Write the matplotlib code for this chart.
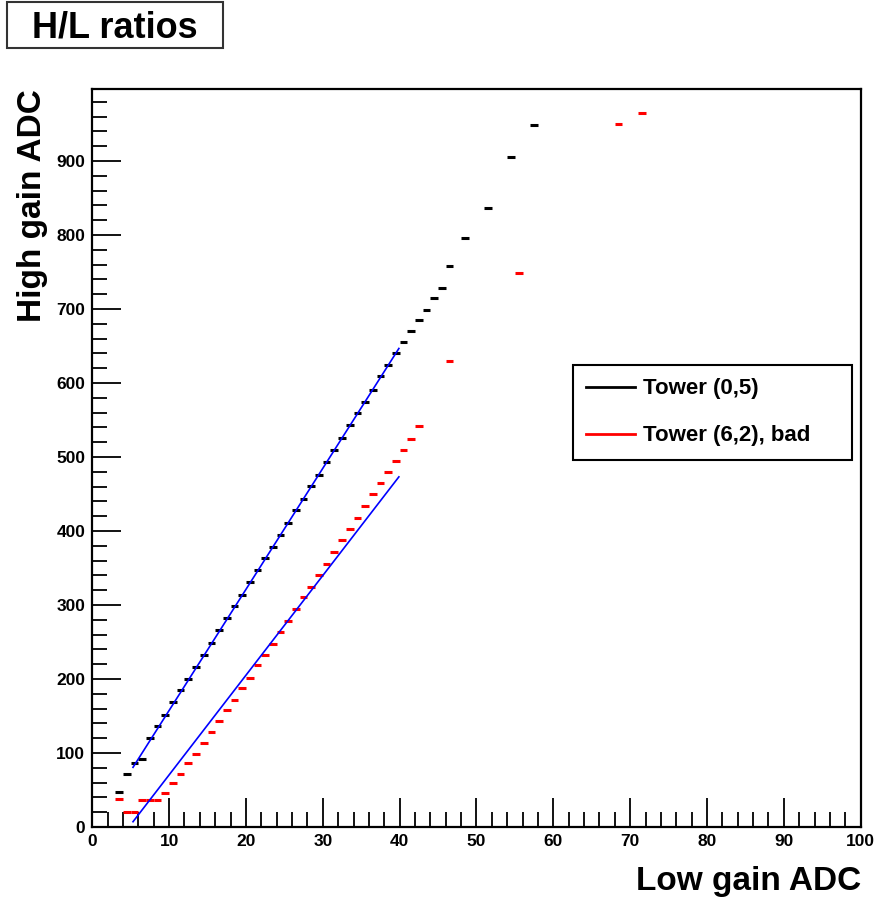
import matplotlib
matplotlib.use("Agg")
import matplotlib.pyplot as plt
from matplotlib.patches import Rectangle
from matplotlib.ticker import MultipleLocator
import numpy as np

plt.rcParams['font.family'] = ['Liberation Sans', 'DejaVu Sans']
plt.rcParams['font.weight'] = 'bold'

# Tower (0,5): bin centres and mean high gain ADC
good_x = [3.5, 4.5, 5.5, 6.5, 7.5, 8.5, 9.5, 10.5, 11.5, 12.5, 13.5, 14.5, 15.5,
          16.5, 17.5, 18.5, 19.5, 20.5, 21.5, 22.5, 23.5, 24.5, 25.5, 26.5, 27.5,
          28.5, 29.5, 30.5, 31.5, 32.5, 33.5, 34.5, 35.5, 36.5, 37.5, 38.5, 39.5,
          40.5, 41.5, 42.5, 43.5, 44.5, 45.5, 46.5, 48.5, 51.5, 54.5, 57.5]
good_y = [47, 72, 86, 92, 120, 136, 152, 169, 185, 200, 216, 233, 249,
          266, 282, 299, 314, 331, 347, 363, 379, 395, 411, 428, 443,
          461, 476, 494, 510, 526, 543, 559, 575, 591, 609, 624, 640,
          655, 670, 685, 699, 715, 728, 758, 796, 836, 906, 949]

# Tower (6,2), bad
bad_x = [3.5, 4.5, 5.5, 6.5, 7.5, 8.5, 9.5, 10.5, 11.5, 12.5, 13.5, 14.5, 15.5,
         16.5, 17.5, 18.5, 19.5, 20.5, 21.5, 22.5, 23.5, 24.5, 25.5, 26.5, 27.5,
         28.5, 29.5, 30.5, 31.5, 32.5, 33.5, 34.5, 35.5, 36.5, 37.5, 38.5, 39.5,
         40.5, 41.5, 42.5, 46.5, 55.5, 68.5, 71.5]
bad_y = [38, 20, 21, 37, 37, 36, 46, 59, 72, 86, 99, 114, 129,
         143, 158, 172, 188, 202, 219, 233, 247, 263, 279, 294, 311,
         325, 341, 356, 372, 388, 403, 418, 434, 450, 465, 480, 495,
         509, 524, 542, 630, 749, 950, 965]

# linear fits (slope, intercept) over the fit range
fit_range = [5.3, 39.9]
good_fit = [16.36, -6.0]
bad_fit = [13.47, -64.2]


def draw_profile(ax, xs, ys, color):
    ax.errorbar(xs, ys, xerr=0.5, fmt='none', ecolor=color, elinewidth=2.2, capsize=0)


def draw_fit(ax, params):
    fx = np.array(fit_range)
    ax.plot(fx, params[0] * fx + params[1], color='#0000ff', lw=1.2)


fig = plt.figure(figsize=(8.78, 9.02), dpi=100)
ax = fig.add_axes([0.1051, 0.0831, 0.8752, 0.8179])

draw_profile(ax, good_x, good_y, 'black')
draw_profile(ax, bad_x, bad_y, '#ff0000')
draw_fit(ax, good_fit)
draw_fit(ax, bad_fit)

ax.set_xlim(0, 100)
ax.set_ylim(0, 997)
ax.xaxis.set_major_locator(MultipleLocator(10))
ax.xaxis.set_minor_locator(MultipleLocator(2))
ax.yaxis.set_major_locator(MultipleLocator(100))
ax.yaxis.set_minor_locator(MultipleLocator(20))
ax.tick_params(which='both', direction='in', top=False, right=False,
               labelsize=12.5, width=1.3)
ax.tick_params(which='major', length=21, pad=5)
ax.tick_params(which='minor', length=11)
for lab in ax.get_xticklabels() + ax.get_yticklabels():
    lab.set_fontweight('bold')
for sp in ax.spines.values():
    sp.set_linewidth(1.6)

ax.set_xlabel('Low gain ADC', fontsize=24, fontweight='bold', loc='right', labelpad=12)
ax.set_ylabel('High gain ADC', fontsize=24, fontweight='bold', loc='top', labelpad=6)

# legend
ax.plot([], [], color='black', lw=2, label='Tower (0,5)')
ax.plot([], [], color='#ff0000', lw=2, label='Tower (6,2), bad')
leg = ax.legend(loc='upper left', bbox_to_anchor=(0.6256, 0.4988, 0.3631, 0.1275),
                mode='expand', fontsize=16, frameon=True, fancybox=False,
                edgecolor='black', framealpha=1, borderaxespad=0,
                handlelength=2.2, handletextpad=0.35, labelspacing=1.17, borderpad=0.6)
leg.get_frame().set_linewidth(1.5)

# title box
fig.patches.append(Rectangle((0.0085, 0.9473), 0.2450, 0.0505, transform=fig.transFigure,
                             fill=False, edgecolor='#333333', lw=1.5))
fig.text(0.1305, 0.969, 'H/L ratios', fontsize=26, fontweight='bold', ha='center', va='center')

plt.savefig('out.png', dpi=100)
plt.close()
